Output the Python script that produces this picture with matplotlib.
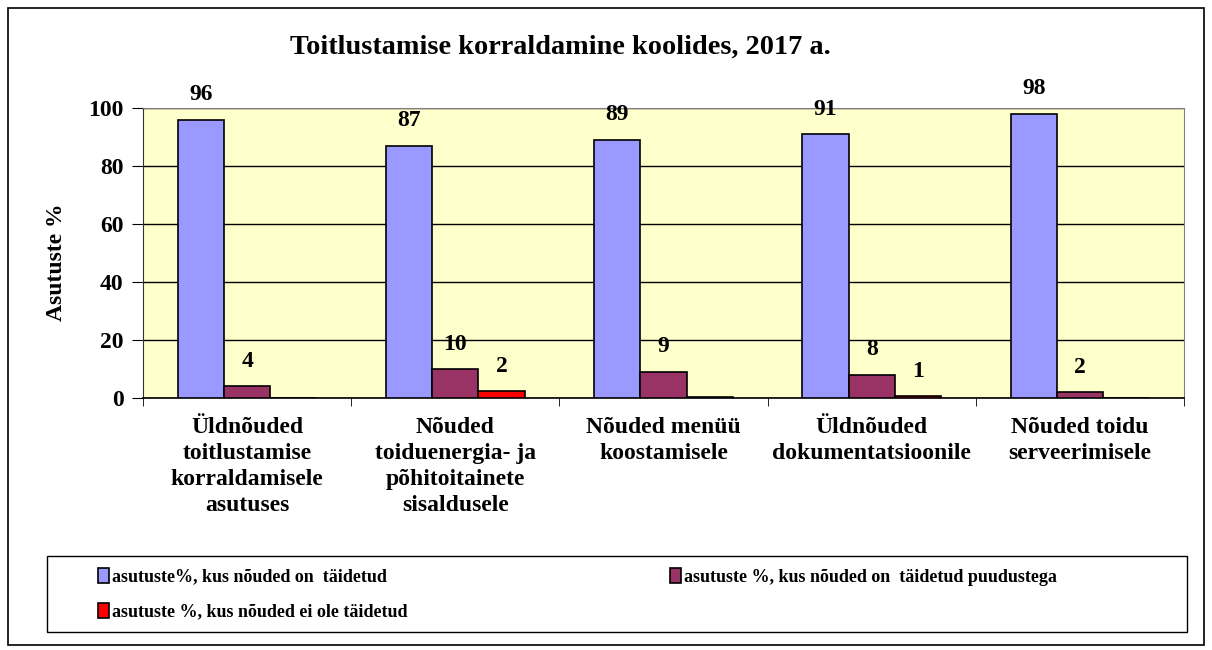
import numpy as np
import matplotlib
matplotlib.use('Agg')
import matplotlib.pyplot as plt
from matplotlib.patches import Rectangle

plt.rcParams['font.family'] = ['Liberation Serif', 'DejaVu Serif']
plt.rcParams['font.weight'] = 'bold'

## data
categories = ['Üldnõuded\ntoitlustamise\nkorraldamisele\nasutuses',
              'Nõuded\ntoiduenergia- ja\npõhitoitainete\nsisaldusele',
              'Nõuded menüü\nkoostamisele',
              'Üldnõuded\ndokumentatsioonile',
              'Nõuded toidu\nserveerimisele']
taidetud = [96, 87, 89, 91, 98]
puudustega = [4, 10, 9, 8, 2]
ei_ole = [0, 2.4, 0.4, 0.6, 0]
series_names = ['asutuste%, kus nõuded on  täidetud',
                'asutuste %, kus nõuded on  täidetud puudustega',
                'asutuste %, kus nõuded ei ole täidetud']
colors = ['#9999FF', '#993366', '#FF0000']
yticks = [0, 20, 40, 60, 80, 100]

fig = plt.figure(figsize=(12.12, 6.5), dpi=100)
fig.patches.append(Rectangle((8/1212, 5/650), 1196/1212, 637/650, transform=fig.transFigure,
                             fill=False, edgecolor='black', lw=1.2))
## legend frame
fig.patches.append(Rectangle((47/1212, 18/650), 1140/1212, 76/650, transform=fig.transFigure,
                             fill=False, edgecolor='black', lw=1.0))
ax = fig.add_axes([143/1212, 1-398/650, 1041/1212, 290/650])
ax.set_facecolor('#FFFFCC')

x = np.arange(len(categories))
w = 0.222
bars = []
for i, vals in enumerate([taidetud, puudustega, ei_ole]):
    b = ax.bar(x + (i-1)*w, vals, w, color=colors[i], edgecolor='black', lw=1.2,
               label=series_names[i], zorder=3)
    bars.append(b)
    for xi, v in zip(x, vals):
        if v >= 0.5:
            ax.annotate('%d' % round(v), (xi + (i-1)*w, v), xytext=(0, 18),
                        textcoords='offset points', ha='center', va='center',
                        fontsize=17, fontweight='bold')

ax.set_xlim(-0.5, len(categories)-0.5)
ax.set_ylim(0, 100)
ax.set_yticks(yticks)
ax.yaxis.grid(True, color='black', lw=1)
ax.set_axisbelow(True)
ax.tick_params(axis='y', labelsize=17, length=8, direction='out', pad=6)
for lab in ax.get_yticklabels():
    lab.set_fontweight('bold')
ax.set_xticks(x)
ax.set_xticklabels(categories, fontsize=17, fontweight='bold', va='top', linespacing=1.3)
ax.set_xticks(np.arange(len(categories)+1) - 0.5, minor=True)
ax.tick_params(axis='x', which='major', length=0, pad=14)
ax.tick_params(axis='x', which='minor', length=6, direction='out')
for s in ['top', 'right']:
    ax.spines[s].set_color('#808080')
ax.spines['left'].set_color('#333333')
ax.spines['bottom'].set_color('black')
ax.spines['bottom'].set_linewidth(1.2)
ax.set_ylabel('Asutuste %', fontsize=17, fontweight='bold')
ax.yaxis.set_label_coords(-0.073, 0.47)

fig.text(0.462, 1-47/650, 'Toitlustamise korraldamine koolides, 2017 a.', ha='center', va='center',
         fontsize=20.3, fontweight='bold')

leg = fig.legend([bars[0], bars[2], bars[1]], [series_names[0], series_names[2], series_names[1]],
                 ncol=2, loc='upper left', bbox_to_anchor=(98/1212, 1-568/650),
                 fontsize=13, frameon=False, columnspacing=14.5,
                 handlelength=0.6, handleheight=0.9, handletextpad=0.2, borderpad=0,
                 labelspacing=0.95, borderaxespad=0)
for t in leg.get_texts():
    t.set_fontweight('bold')

fig.savefig('out.png', dpi=100)
